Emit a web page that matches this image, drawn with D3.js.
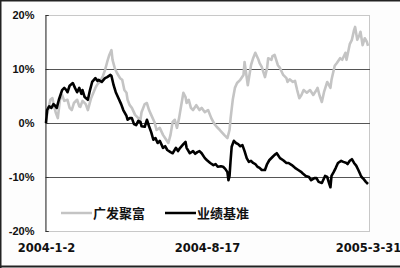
<!DOCTYPE html>
<html><head><meta charset="utf-8">
<script src="https://cdn.jsdelivr.net/npm/d3@7"></script>
<style>html,body{margin:0;padding:0;background:#fff;}svg{display:block;}</style>
</head><body>
<svg id="c" width="400" height="268"></svg>
<script>
const seriesNames = ["广发聚富", "业绩基准"];
const xTickDays = [0, 150, 300];
const xTickLabels = ["2004-1-2", "2004-8-17", "2005-3-31"];
const yTicks = [-20, -10, 0, 10, 20];

// trading-day index, fund return (%)
const fundDays = [0,2,4,6,7,9,11,13,15,17,20,22,24,26,29,31,32,34,37,39,42,46,48,50,53,55,57,59,61,62,64,66,69,71,73,75,76,78,80,83,86,88,89,92,94,96,98,101,103,106,109,112,114,116,118,120,122,124,126,128,130,131,133,135,137,140,143,145,148,151,154,157,159,162,166,169,171,172,174,176,178,181,184,185,188,191,193,195,198,199,201,204,206,207,210,211,213,216,218,221,224,225,227,230,232,234,236,238,240,243,246,249,252,253,255,257,259,262,265,266,269,271,274,276,279,280,283,285,287,288,290,292,293,295,297,299,300];
const fundVals = [0.6,2.4,4.3,4.6,3.5,2.0,0.9,4.3,5.2,4.1,4.3,2.8,2.4,3.7,4.3,3.1,3.0,4.1,3.5,2.4,4.6,6.5,7.2,7.6,8.7,9.8,11.3,12.6,13.5,11.7,10.2,9.3,8.3,8.0,6.1,5.6,4.3,3.3,2.8,1.5,0.9,0.6,2.0,3.5,3.7,2.4,1.5,0.2,-1.3,-0.9,-2.2,-3.1,-3.7,-2.2,0.2,0.6,-0.9,0.9,3.3,5.6,4.8,3.7,4.3,2.8,2.4,3.3,2.4,2.8,2.0,2.4,0.9,-0.2,-0.7,-1.3,-2.2,-2.8,-1.3,0.9,4.3,6.5,7.4,8.0,8.9,11.3,7.0,10.7,12.0,13.0,11.7,11.1,10.4,8.5,10.2,12.0,11.7,12.4,12.6,10.7,10.2,8.9,8.3,7.6,8.1,7.6,7.8,6.1,4.6,5.2,6.1,5.6,6.1,5.2,6.1,6.5,5.0,3.9,5.7,7.6,6.5,8.0,10.6,11.1,12.0,11.7,13.0,11.7,14.6,15.4,17.2,17.8,15.4,16.3,16.9,14.4,15.7,15.0,14.3];

// trading-day index, benchmark return (%)
const benchDays = [0,1,3,5,7,8,10,12,15,17,19,20,22,25,27,29,31,33,34,36,39,41,43,46,48,49,52,55,57,60,61,63,65,67,70,72,75,76,78,80,82,84,86,88,89,92,94,96,98,100,102,104,106,109,111,113,116,118,121,123,125,128,130,131,134,137,139,141,143,145,148,150,153,156,158,160,163,165,167,169,170,171,172,173,175,177,179,181,183,185,187,189,191,193,195,197,199,201,204,206,208,211,213,215,218,221,224,226,229,232,235,238,239,242,245,247,250,252,254,257,260,262,264,265,266,268,270,272,275,277,280,281,283,285,287,289,291,293,294,296,298,300];
const benchVals = [0,2.4,3.1,2.8,3.5,3.3,2.8,4.3,6.1,6.5,6.1,5.7,6.9,7.4,6.5,5.7,6.5,5.4,6.1,4.8,4.3,6.1,7.6,8.3,7.8,8.0,7.6,8.3,8.5,8.9,8.7,7.0,5.7,4.8,3.5,2.4,1.3,0.6,0.9,0.9,-0.2,-0.4,0.4,0.2,-0.6,-0.7,0.6,-0.6,-1.7,-3.1,-2.8,-3.7,-3.3,-4.6,-4.3,-5.0,-5.4,-5.6,-4.6,-5.2,-4.6,-3.9,-3.5,-4.6,-5.6,-5.2,-5.7,-5.4,-5.2,-5.6,-6.5,-6.9,-7.4,-7.8,-7.6,-8.1,-8.0,-8.1,-8.5,-9.1,-10.6,-9.8,-6.9,-4.4,-3.3,-3.7,-3.9,-4.3,-4.1,-5.2,-6.5,-7.2,-7.0,-7.4,-7.6,-8.1,-8.3,-8.7,-8.7,-7.6,-6.9,-6.3,-5.9,-5.6,-6.5,-6.9,-7.4,-7.4,-7.8,-8.3,-8.7,-9.1,-9.3,-9.8,-10.0,-10.6,-10.2,-10.2,-10.9,-11.1,-9.8,-10.0,-11.3,-11.9,-9.8,-9.1,-8.3,-7.4,-7.0,-7.2,-7.4,-7.6,-7.0,-6.7,-7.4,-7.9,-8.7,-9.6,-10.0,-10.4,-10.9,-11.3];

const svg = d3.select("#c");
const pL = 46, pR = 368, pT = 15, pB = 231;
const x = d3.scaleLinear().domain([0, 300]).range([pL, pR]);
const y = d3.scaleLinear().domain([-20, 20]).range([pB, pT]);

// outer frame
svg.append("rect").attr("x", 0).attr("y", 0).attr("width", 400).attr("height", 268).attr("fill", "#fdfdfd");
svg.append("line").attr("x1", 0).attr("x2", 400).attr("y1", 0.5).attr("y2", 0.5).attr("stroke", "#222").attr("stroke-width", 2);
svg.append("line").attr("x1", 0.5).attr("x2", 0.5).attr("y1", 0).attr("y2", 268).attr("stroke", "#222").attr("stroke-width", 2);
svg.append("line").attr("x1", 0).attr("x2", 400).attr("y1", 266.5).attr("y2", 266.5).attr("stroke", "#222").attr("stroke-width", 2);

// plot frame (light)
svg.append("rect").attr("x", pL - 0.5).attr("y", pT + 0.5).attr("width", pR + 2 - pL).attr("height", pB - pT)
  .attr("fill", "#fff").attr("stroke", "#c8c8c8").attr("stroke-width", 1);

// grid lines
svg.append("g").selectAll("line").data([10, 0, -10]).join("line")
  .attr("x1", pL).attr("x2", pR + 2)
  .attr("y1", d => Math.round(y(d)) + 0.5).attr("y2", d => Math.round(y(d)) + 0.5)
  .attr("stroke", "#555").attr("stroke-width", 1);

// y axis
const yAxis = d3.axisLeft(y).tickValues(yTicks).tickSize(-3).tickPadding(11).tickFormat(d => d + "%");
const gy = svg.append("g").attr("transform", `translate(${pL - 0.5},0)`).call(yAxis);
gy.select(".domain").attr("stroke", "#333");
gy.selectAll(".tick line").attr("stroke", "#333");
gy.selectAll("text").attr("font-family", "Liberation Sans, Arial, sans-serif").attr("font-weight", "bold")
  .attr("font-size", 11).attr("fill", "#111");

// x axis labels
const xAxis = d3.axisBottom(x).tickValues(xTickDays).tickSize(0).tickPadding(0)
  .tickFormat((d, i) => xTickLabels[i]);
const gx = svg.append("g").attr("transform", `translate(0,244)`).call(xAxis);
gx.select(".domain").remove();
gx.selectAll("text").attr("font-family", "DejaVu Sans, sans-serif").attr("font-weight", "bold")
  .attr("font-size", 11.5).attr("fill", "#111");

// lines
const line = d3.line().x(d => x(d[0])).y(d => y(d[1]));
const fund = fundDays.map((d, i) => [d, fundVals[i]]);
const bench = benchDays.map((d, i) => [d, benchVals[i]]);
svg.append("path").datum(fund).attr("d", line).attr("fill", "none")
  .attr("stroke", "#c4c4c4").attr("stroke-width", 2.6).attr("stroke-linejoin", "round");
svg.append("path").datum(bench).attr("d", line).attr("fill", "none")
  .attr("stroke", "#000").attr("stroke-width", 2.6).attr("stroke-linejoin", "round");

// legend
const legend = [
  {name: seriesNames[0], color: "#c4c4c4", x: 61},
  {name: seriesNames[1], color: "#000", x: 165}
];
const lg = svg.append("g").selectAll("g").data(legend).join("g").attr("transform", d => `translate(${d.x},213)`);
lg.append("line").attr("x1", 0).attr("x2", 31).attr("y1", 0).attr("y2", 0).attr("stroke", d => d.color).attr("stroke-width", 2.5);
lg.append("text").attr("x", 32).attr("y", 0).attr("dy", "0.36em").text(d => d.name)
  .attr("font-family", "Noto Sans CJK SC, sans-serif").attr("font-weight", "bold").attr("font-size", 13).attr("fill", "#111");
</script>
</body></html>
